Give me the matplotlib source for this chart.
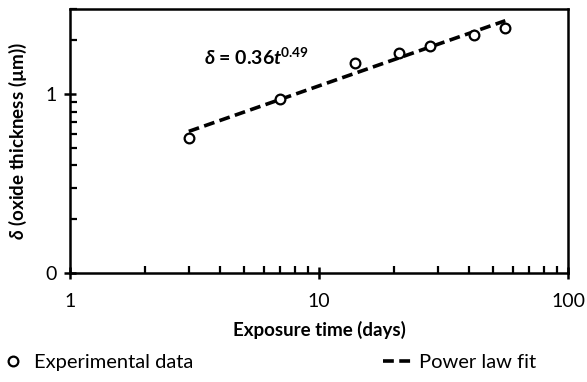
import matplotlib
matplotlib.use("Agg")
import matplotlib.pyplot as plt
from matplotlib.ticker import FixedLocator, FixedFormatter, LogLocator, NullFormatter

plt.rcParams['font.family'] = ['Lato', 'DejaVu Sans']
plt.rcParams['mathtext.fontset'] = 'custom'
plt.rcParams['mathtext.rm'] = 'Lato'
plt.rcParams['mathtext.bf'] = 'Lato:bold'
plt.rcParams['mathtext.it'] = 'Lato:italic'
plt.rcParams['mathtext.bfit'] = 'Lato:bold:italic'

# experimental data
days = [3, 7, 14, 21, 28, 42, 56]
thickness = [0.57, 0.94, 1.49, 1.70, 1.86, 2.14, 2.35]
# power law fit endpoints (straight on log-log)
fit_days = [3, 56]
fit_thickness = [0.62, 2.58]

fig = plt.figure(figsize=(5.87, 3.82), dpi=100)
ax = fig.add_axes([70/587, 1 - 273/382, 498/587, 264/382])

fit_line, = ax.plot(fit_days, fit_thickness, '--', color='black', lw=2.6,
                    dashes=(3, 1.5), zorder=2)
pts, = ax.plot(days, thickness, 'o', mfc='white', mec='black', mew=1.6, ms=7,
               zorder=3)

ax.set_xscale('log')
ax.set_yscale('log')
ax.set_xlim(1, 100)
ax.set_ylim(0.1, 3)

ax.xaxis.set_major_locator(FixedLocator([1, 10, 100]))
ax.xaxis.set_major_formatter(FixedFormatter(['1', '10', '100']))
ax.xaxis.set_minor_locator(LogLocator(base=10, subs=range(2, 10)))
ax.xaxis.set_minor_formatter(NullFormatter())
ax.yaxis.set_major_locator(FixedLocator([0.1, 1]))
ax.yaxis.set_major_formatter(FixedFormatter(['0', '1']))
ax.yaxis.set_minor_locator(LogLocator(base=10, subs=range(2, 10)))
ax.yaxis.set_minor_formatter(NullFormatter())

for s in ax.spines.values():
    s.set_linewidth(1.8)
ax.tick_params(which='major', direction='inout', length=9, width=1.8,
               labelsize=14, pad=5, colors='black')
ax.tick_params(which='minor', direction='in', length=5, width=1.6)
ax.tick_params(axis='x', which='major', pad=10)

ax.set_xlabel('Exposure time (days)', fontsize=13.5, fontweight='bold', labelpad=8)
ax.set_ylabel(r'$\mathbfit{\delta}$ (oxide thickness (µm))', fontsize=13.5,
              fontweight='bold', labelpad=12)

fig.text(204/587, 1 - 57/382, r'$\mathbfit{\delta}$ = 0.36$\mathbfit{t}^{\mathbf{0.49}}$',
         fontsize=14, fontweight='bold', ha='left', va='center')

leg_kw = dict(frameon=False, fontsize=14.5, borderpad=0, borderaxespad=0,
              loc='center left')
fig.legend([pts], ['Experimental data'], bbox_to_anchor=(3/587, 20/382),
           handlelength=1.0, handletextpad=0.55, **leg_kw)
fig.legend([fit_line], ['Power law fit'], bbox_to_anchor=(383/587, 20/382),
           handlelength=1.5, handletextpad=0.3, **leg_kw)

fig.savefig('out.png', dpi=100)
